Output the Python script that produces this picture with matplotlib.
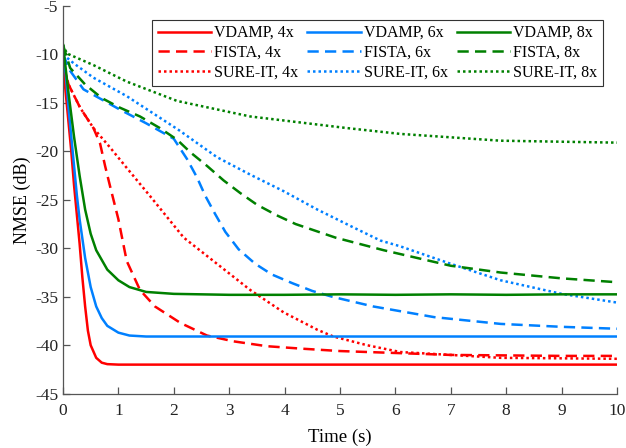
import matplotlib
matplotlib.use("Agg")
import matplotlib.pyplot as plt

plt.rcParams['font.family'] = ['Liberation Serif', 'DejaVu Serif']
plt.rcParams['axes.unicode_minus'] = False

# values
t_vd4 = [0, 0.05, 0.1, 0.15, 0.2, 0.25, 0.3, 0.35, 0.4, 0.45, 0.5, 0.6, 0.7, 0.8, 1, 2, 4, 6, 8, 10]
vd4 = [-11, -14, -17, -20, -23.5, -26.5, -29.5, -33, -36, -38.5, -40, -41.3, -41.8, -41.95, -42, -42, -42, -42, -42, -42]

t_vd6 = [0, 0.05, 0.1, 0.15, 0.2, 0.25, 0.3, 0.4, 0.5, 0.6, 0.7, 0.8, 1.0, 1.2, 1.5, 2, 4, 6, 8, 10]
vd6 = [-10, -12, -15.5, -18.5, -21.5, -24.5, -27, -31, -34, -36, -37.2, -38, -38.7, -39, -39.1, -39.1, -39.1, -39.1, -39.1, -39.1]

t_vd8 = [0, 0.1, 0.2, 0.3, 0.4, 0.5, 0.6, 0.8, 1.0, 1.2, 1.5, 2, 3, 4, 5, 6, 7, 8, 9, 10]
vd8 = [-9, -14, -18.5, -22.5, -26, -28.5, -30.2, -32.2, -33.3, -34, -34.5, -34.7, -34.8, -34.8, -34.75, -34.8, -34.75, -34.8, -34.75, -34.75]

t_fi4 = [0, 0.1, 0.31, 0.55, 0.67, 0.76, 0.85, 1.0, 1.15, 1.39, 1.66, 2.12, 2.6, 3.08, 3.68, 4.3, 5, 6, 7, 8, 9, 10]
fi4 = [-11, -13.1, -15.5, -17.6, -19.2, -21.5, -23.6, -27, -31.3, -34.3, -36, -37.7, -39, -39.6, -40.1, -40.35, -40.6, -40.8, -41, -41.05, -41.1, -41.1]

t_su4 = [0, 0.1, 0.31, 0.55, 0.85, 1.15, 1.57, 2.18, 2.78, 3.38, 3.98, 4.59, 4.88, 5.49, 6.09, 7, 7.9, 9, 10]
su4 = [-11, -13.1, -15.5, -17.6, -19.6, -21.7, -24.6, -28.9, -31.6, -34.3, -36.6, -38.4, -39.1, -40, -40.7, -41, -41.3, -41.35, -41.4]

t_fi6 = [0, 0.13, 0.37, 1.03, 1.5, 2.0, 2.24, 2.42, 2.57, 2.75, 2.93, 3.17, 3.47, 3.77, 4.14, 4.5, 4.86, 5.6, 6.7, 7.9, 9, 10]
fi6 = [-10, -11.7, -13.6, -15.7, -17.1, -18.7, -20.8, -22.7, -24.6, -26.5, -28.3, -30.1, -31.6, -32.7, -33.6, -34.4, -35, -36, -37.1, -37.8, -38.1, -38.3]

t_su6 = [0, 0.19, 0.55, 1.15, 2.09, 2.78, 3.38, 3.98, 4.59, 5.19, 5.73, 6.09, 7, 7.9, 9, 10]
su6 = [-10, -10.9, -12.4, -14.3, -17.8, -20.6, -22.4, -24.1, -26.0, -27.7, -29.2, -29.8, -31.6, -33.3, -34.7, -35.6]

t_fi8 = [0, 0.13, 0.4, 0.7, 1.03, 1.39, 1.75, 2.06, 2.3, 2.6, 2.9, 3.2, 3.5, 3.86, 4.2, 4.56, 4.92, 5.79, 7, 7.9, 9, 10]
fi8 = [-9, -11.4, -13.1, -14.5, -15.5, -16.4, -17.6, -18.8, -20.1, -21.5, -23.0, -24.3, -25.5, -26.6, -27.5, -28.2, -28.9, -30.2, -31.8, -32.5, -33.1, -33.5]

t_su8 = [0, 0.07, 0.55, 1.15, 2.06, 3.38, 5.13, 6.09, 7.9, 10]
su8 = [-9, -9.9, -11.1, -12.8, -14.8, -16.4, -17.6, -18.2, -18.9, -19.1]

red = '#ff0000'
blue = '#0080ff'
green = '#008000'
dash = (0, (4.5, 2.5))
dot = (0, (1, 1.2))
lw = 1.8

fig = plt.figure(figsize=(6.26, 4.48), dpi=100)
ax = fig.add_axes([0.1006, 0.1212, 0.885, 0.8655])

ax.plot(t_vd4, vd4, color=red, lw=lw, label='VDAMP, 4x')
ax.plot(t_fi4, fi4, color=red, lw=lw, ls=dash, label='FISTA, 4x')
ax.plot(t_su4, su4, color=red, lw=lw, ls=dot, label='SURE-IT, 4x')
ax.plot(t_vd6, vd6, color=blue, lw=lw, label='VDAMP, 6x')
ax.plot(t_fi6, fi6, color=blue, lw=lw, ls=dash, label='FISTA, 6x')
ax.plot(t_su6, su6, color=blue, lw=lw, ls=dot, label='SURE-IT, 6x')
ax.plot(t_vd8, vd8, color=green, lw=lw, label='VDAMP, 8x')
ax.plot(t_fi8, fi8, color=green, lw=lw, ls=dash, label='FISTA, 8x')
ax.plot(t_su8, su8, color=green, lw=lw, ls=dot, label='SURE-IT, 8x')

ax.set_xlim(0, 10)
ax.set_ylim(-45, -5)
ax.set_xticks(range(0, 11))
ax.set_yticks(range(-45, -4, 5))
ax.set_xlabel('Time (s)', fontsize=13.5, labelpad=7)
ax.set_ylabel('NMSE (dB)', fontsize=13, labelpad=3)

for s in ['top', 'right']:
    ax.spines[s].set_visible(False)
for s in ['left', 'bottom']:
    ax.spines[s].set_color('#555555')
    ax.spines[s].set_linewidth(0.9)
ax.tick_params(direction='in', length=5, width=0.9, color='#555555', labelsize=12.5, labelcolor='#222222')
ax.tick_params(axis='x', pad=7)

leg = ax.legend(ncol=3, loc='upper right', bbox_to_anchor=(0.975, 0.965), borderaxespad=0,
                fontsize=11.5, fancybox=False, framealpha=1, edgecolor='#333333',
                handlelength=3.35, handletextpad=0.2, columnspacing=0.55, labelspacing=0.22,
                borderpad=0.35)
leg.get_frame().set_linewidth(0.8)

fig.savefig('out.png', dpi=100)
